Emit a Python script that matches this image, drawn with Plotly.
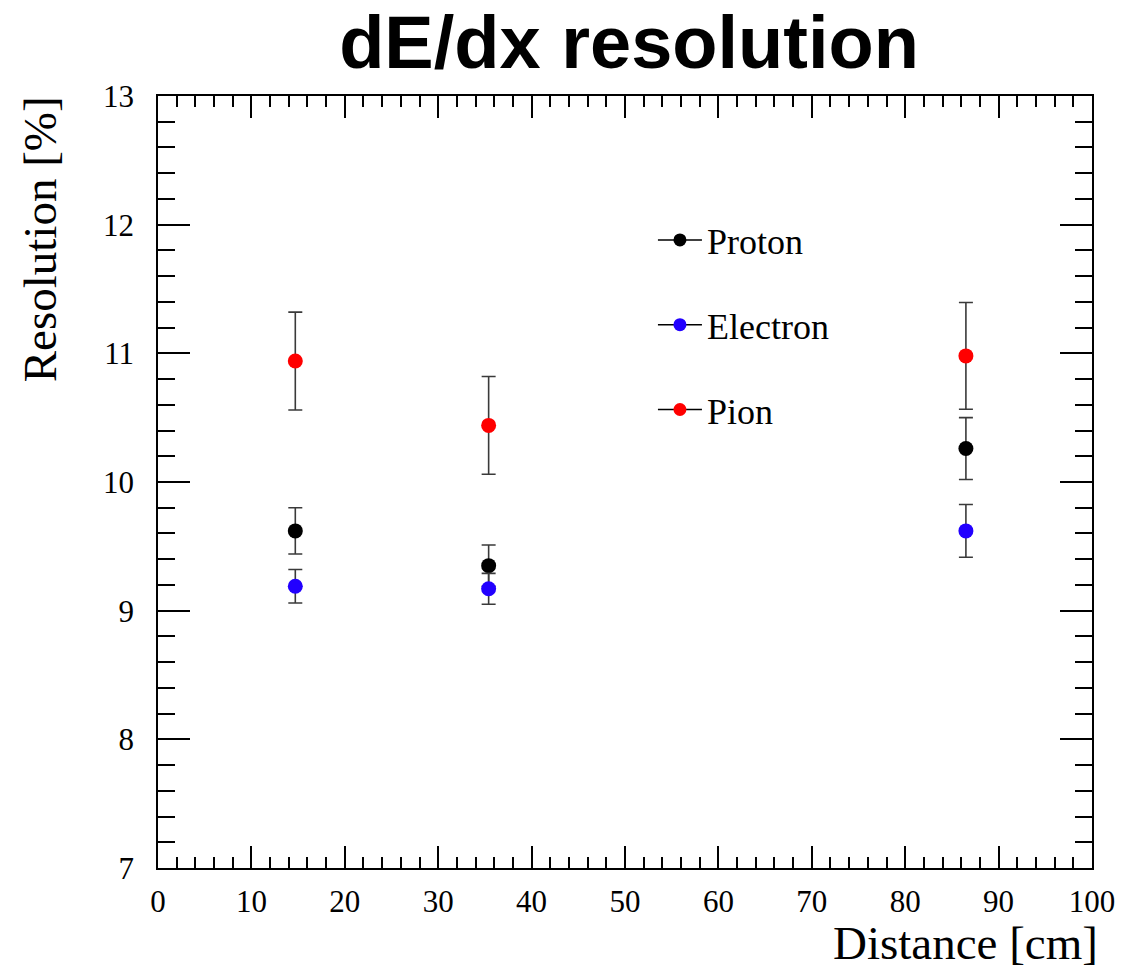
import plotly.graph_objects as go

# Data
distance = [14.7, 35.4, 86.5]
species = ["Proton", "Electron", "Pion"]
colors = {"Proton": "#000000", "Electron": "#2200ff", "Pion": "#ff0000"}
resolution = {
    "Proton": [9.62, 9.35, 10.26],
    "Electron": [9.19, 9.17, 9.62],
    "Pion": [10.94, 10.44, 10.98],
}
errors = {
    "Proton": [0.18, 0.16, 0.24],
    "Electron": [0.13, 0.12, 0.205],
    "Pion": [0.38, 0.38, 0.415],
}
x_ticks = [0, 10, 20, 30, 40, 50, 60, 70, 80, 90, 100]
y_ticks = [7, 8, 9, 10, 11, 12, 13]

SERIF = "Liberation Serif, Times New Roman, serif"

W, H = 1127, 969
L, R, T, B = 158, 1094, 96, 868  # plot area in page px
PW, PH = R - L, B - T


def px_x(p):
    return (p - L) / PW


def px_y(p):
    return (B - p) / PH


fig = go.Figure()
for s in species:
    fig.add_trace(go.Scatter(
        x=distance, y=resolution[s], mode="markers", showlegend=False,
        marker=dict(color=colors[s], size=15),
        error_y=dict(type="data", array=errors[s], visible=True,
                     color="#3a3a3a", thickness=1.6, width=7),
    ))
for s in species:
    fig.add_trace(go.Scatter(
        x=[None], y=[None], mode="lines+markers", name=s,
        legendgroup=s,
        line=dict(color="#000000", width=1.5),
        marker=dict(color=colors[s], size=13),
    ))

axis_common = dict(
    showline=True, linecolor="#000000", linewidth=1.6, mirror="ticks",
    ticks="inside", tickcolor="#000000", tickwidth=1.6,
    showgrid=False, zeroline=False,
    tickfont=dict(family=SERIF, size=31, color="#000000"),
)
fig.update_xaxes(range=[0, 100], tickvals=x_ticks, ticklen=22,
                 minor=dict(dtick=2, ticks="inside", ticklen=11,
                            tickcolor="#000000", tickwidth=1.6, showgrid=False),
                 ticklabelstandoff=5, **axis_common)
fig.update_yaxes(range=[7, 13], tickvals=y_ticks, ticklen=32,
                 minor=dict(dtick=0.2, ticks="inside", ticklen=17,
                            tickcolor="#000000", tickwidth=1.6, showgrid=False),
                 ticklabelstandoff=16, **axis_common)

fig.update_layout(
    width=W, height=H,
    margin=dict(l=L, r=W - R, t=T, b=H - B),
    paper_bgcolor="white", plot_bgcolor="white",
    title=dict(text="<b>dE/dx resolution</b>", x=629 / W, xanchor="center",
               y=1 - 42 / H, yanchor="middle",
               font=dict(family="Liberation Sans, Arial, sans-serif", size=74, color="#000000")),
    legend=dict(x=px_x(654), y=px_y(210), xanchor="left", yanchor="top",
                font=dict(family=SERIF, size=36, color="#000000"),
                bgcolor="rgba(0,0,0,0)", tracegroupgap=35, itemsizing="trace",
                itemwidth=44),
    annotations=[
        dict(text="Distance [cm]", xref="paper", yref="paper", x=px_x(1102), y=px_y(943),
             xanchor="right", yanchor="middle", showarrow=False,
             font=dict(family=SERIF, size=47, color="#000000")),
        dict(text="Resolution [%]", xref="paper", yref="paper", x=px_x(40), y=px_y(94),
             xanchor="center", yanchor="top", textangle=-90, showarrow=False,
             font=dict(family=SERIF, size=47, color="#000000")),
    ],
)

fig.write_html(
    "out.html",
    config={"displayModeBar": False},
    post_script="document.body.style.margin='0';document.body.style.overflow='hidden';",
)
